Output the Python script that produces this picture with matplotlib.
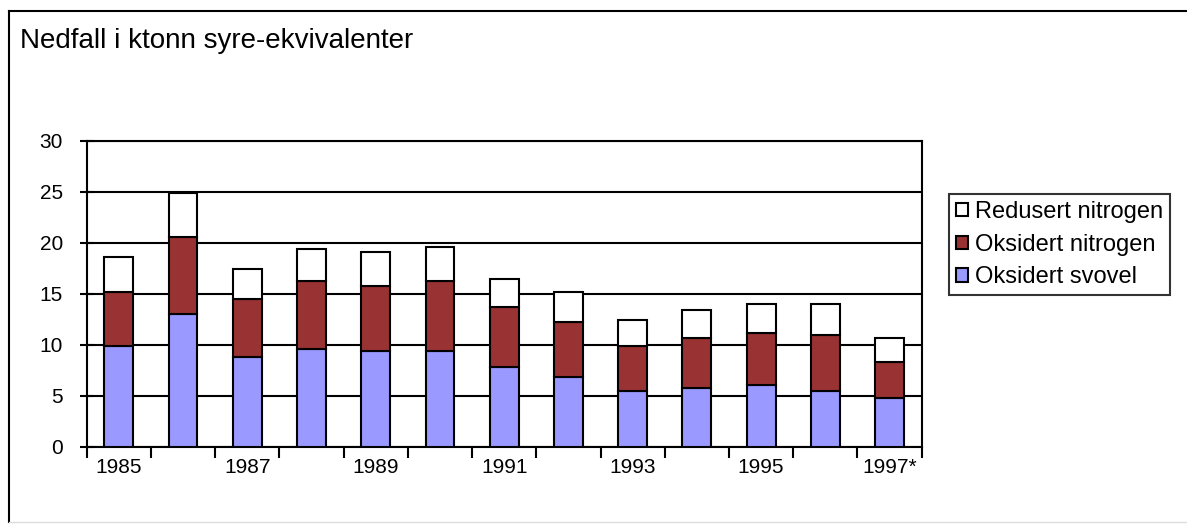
import numpy as np
import matplotlib
matplotlib.use("Agg")
import matplotlib.pyplot as plt
from matplotlib.lines import Line2D

plt.rcParams['font.family'] = ['Liberation Sans', 'DejaVu Sans']

# data (ktonn)
years = ['1985', '1986', '1987', '1988', '1989', '1990', '1991',
         '1992', '1993', '1994', '1995', '1996', '1997*']
svovel = np.array([9.9, 13.0, 8.85, 9.6, 9.35, 9.35, 7.8, 6.8, 5.45, 5.8, 6.05, 5.45, 4.75])
oks_nitrogen = np.array([5.3, 7.6, 5.65, 6.7, 6.45, 6.95, 5.9, 5.4, 4.45, 4.85, 5.15, 5.5, 3.6])
red_nitrogen = np.array([3.4, 4.3, 2.9, 3.1, 3.3, 3.3, 2.8, 3.0, 2.55, 2.75, 2.8, 3.05, 2.3])
tick_years = ['1985', '', '1987', '', '1989', '', '1991', '', '1993', '', '1995', '', '1997*']

blue = '#9999ff'
red = '#993333'

fig = plt.figure(figsize=(11.87, 5.27), dpi=100)
W, H = 1187, 527

# outer chart frame
fig.add_artist(Line2D([9/W, 9/W], [0.01, 1-11/H], color='black', lw=1.5))
fig.add_artist(Line2D([9/W, 1.0], [1-11/H, 1-11/H], color='black', lw=1.5))
fig.add_artist(Line2D([9/W, 1.0], [0.01, 0.01], color='#dddddd', lw=1))

ax = fig.add_axes([86.7/W, 1-446.7/H, (921.7-86.7)/W, (446.7-141)/H])
x = np.arange(len(years))
w = 0.45
ax.bar(x, svovel, w, color=blue, edgecolor='black', lw=1.5, zorder=3, label='Oksidert svovel')
ax.bar(x, oks_nitrogen, w, bottom=svovel, color=red, edgecolor='black', lw=1.5, zorder=3,
       label='Oksidert nitrogen')
ax.bar(x, red_nitrogen, w, bottom=svovel+oks_nitrogen, color='white', edgecolor='black', lw=1.5,
       zorder=3, label='Redusert nitrogen')

ax.set_xlim(-0.5, len(years)-0.5)
ax.set_ylim(0, 30)
ax.set_yticks(range(0, 31, 5))
ax.yaxis.grid(True, color='black', lw=1.5, zorder=0)
ax.set_axisbelow(True)
for s in ax.spines.values():
    s.set_linewidth(1.5)

ax.set_xticks(x)
ax.set_xticklabels(tick_years)
ax.set_xticks(np.arange(-0.5, len(years)), minor=True)
ax.tick_params(axis='x', which='major', length=0, pad=8, labelsize=15)
ax.tick_params(axis='x', which='minor', length=8, width=1.5, direction='out')
ax.tick_params(axis='y', length=10, width=1.5, direction='inout', pad=12, labelsize=15)

fig.text(20/W, 1-47.7/H, 'Nedfall i ktonn syre-ekvivalenter', fontsize=20, va='baseline', ha='left')

h, l = ax.get_legend_handles_labels()
leg = fig.legend(h[::-1], l[::-1], loc='upper left', bbox_to_anchor=(949/W, 1-194/H),
                 frameon=True, fancybox=False, edgecolor='black', fontsize=17,
                 handlelength=0.5, handleheight=0.5, handletextpad=0.3, borderpad=0.3,
                 labelspacing=0.45, borderaxespad=0)
leg.get_frame().set_linewidth(1.5)

fig.savefig('out.png', dpi=100, facecolor='white')
